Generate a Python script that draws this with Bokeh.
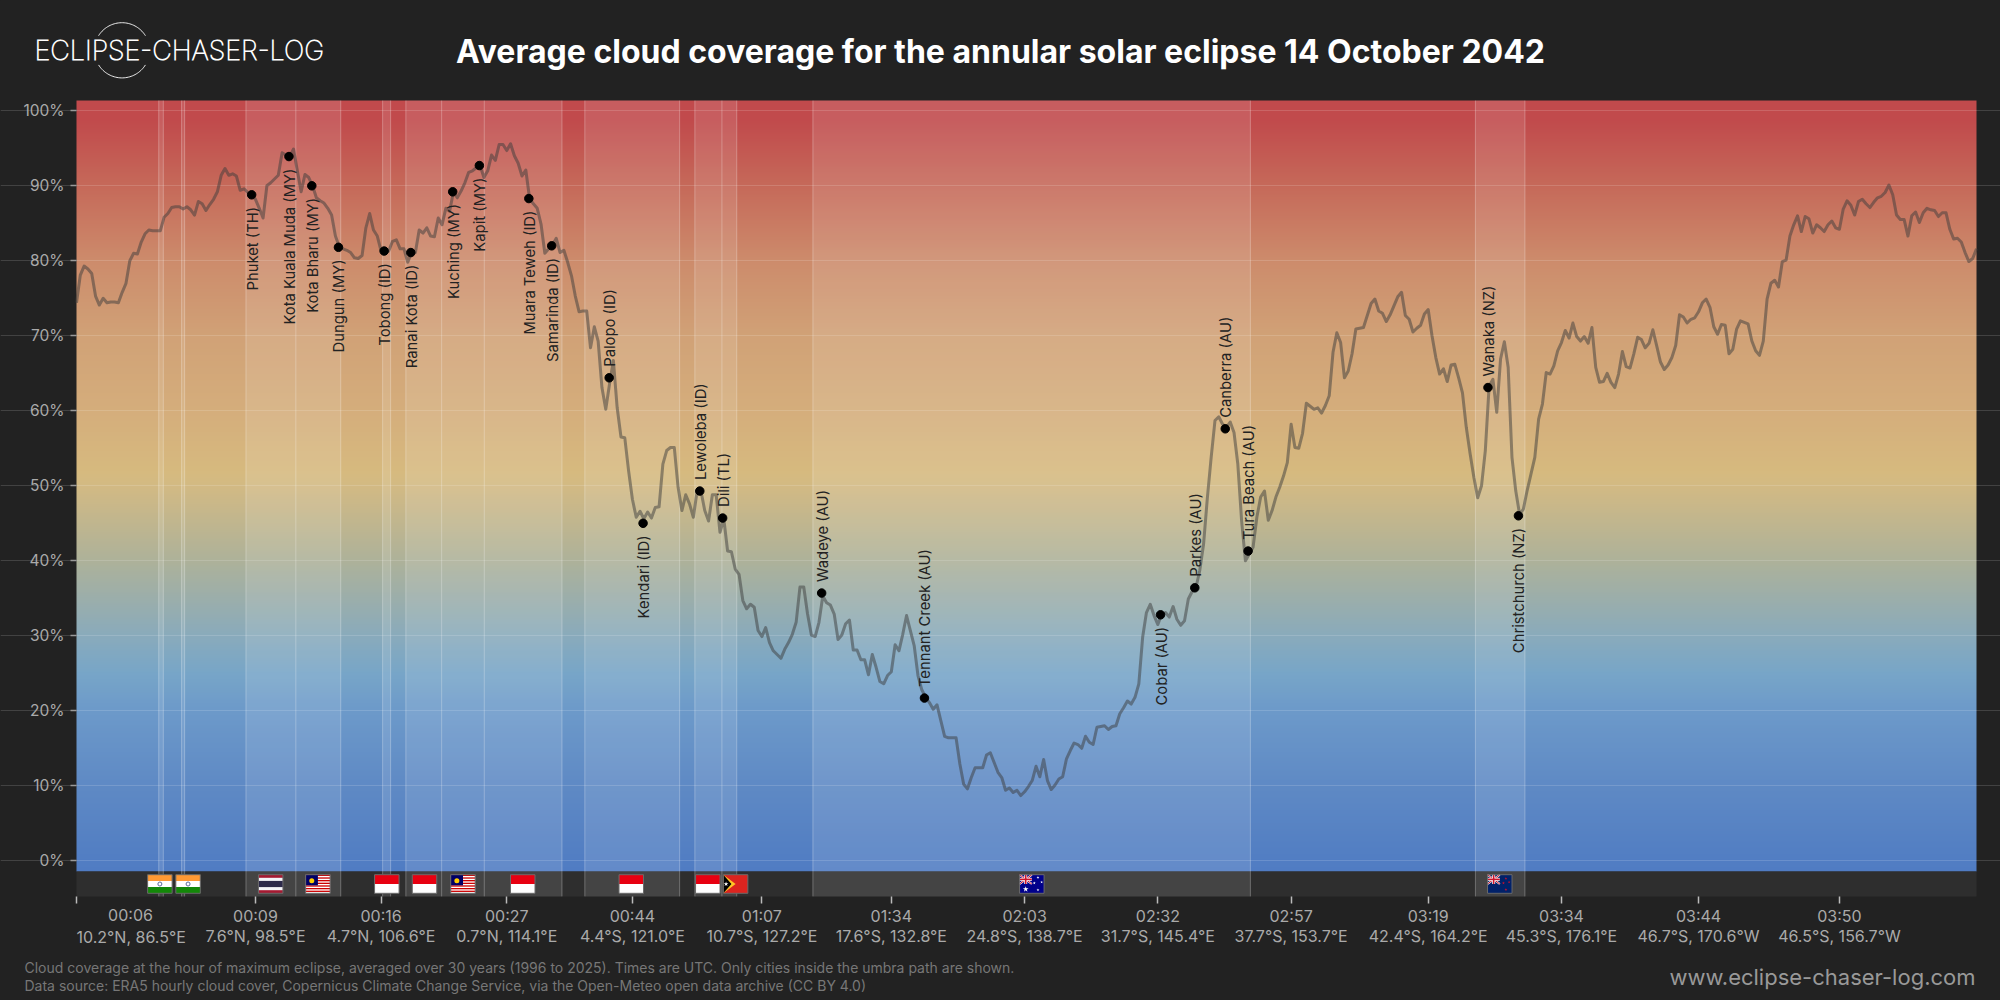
import numpy as np
from bokeh.plotting import figure
from bokeh.core.properties import value
from bokeh.models import FixedTicker, Grid, LinearAxis, PrintfTickFormatter, Range1d
from bokeh.embed import file_html
from bokeh.resources import INLINE

# ---- data ----
cloud_part1 = [
    74.4,78.1,79.3,78.9,78.3,75.3,74.1,75,74.4,74.5,
    74.5,74.4,75.8,77,80,81,80.9,82.5,83.6,84.1,
    84,84,84,85.8,86.3,87.1,87.2,87.2,86.9,87.2,
    86.8,86.1,87.9,87.6,86.7,87.5,88.2,89.2,91.4,92.3,
    91.4,91.6,91.3,89.4,89.6,89.1,88.8,88.2,87,85.7,
    90,90.4,90.9,91.4,94.4,94.1,93.9,94.9,92,89.2,
    91.5,91.1,90,88.4,88,87.7,87,86.1,83.3,81.9,
    81.6,81.4,81.1,80.4,80.3,80.7,84.4,86.3,84.1,83.3,
    81.3,81.1,81.3,82.6,82.8,81.6,81.6,79.8,81.1,81.1,
    84.1,83.7,84.4,83.3,83.2,85.7,84.8,87,86.6,89.2,
    88.4,89.3,90.4,91.8,92,92.4,92.7,91.1,92,94.1,
    93.4,95.5,95.5,94.7,95.6,94,93,91.3,92.1,88.3,
    87.6,87,84.9,81,81.6,82.1,83,81.1]
cloud_part2 = [
    81.4,79.8,78,75.3,73.2,73.3,73.3,68.4,71.2,69.3,
    63.1,60.2,63.6,66.7,60.4,56.5,56.4,52,48.2,45.8,
    46.6,45.6,46.5,45.7,47.1,47.2,52.9,54.7,55.1,55.1,
    49.8,46.7,48.8,47.6,45.8,49.3,49.3,46.7,45.3,48.8,
    48.8,43.8,45.6,41.3,41.2,38.9,38.2,34.7,33.6,34.2,
    33.8]
cloud_part3 = [
    30.7,29.9,31.1,29.1,28,27.5,27,28.2,29.1,30.2,
    31.8,36.5,36.5,32.9,30.1,29.9,31.8,35.3,34.4,34.1,
    32.9,29.5,30.1,31.6,32.1,28.1,28.1,26.8,26.8,24.8,
    27.5,25.8,23.9,23.6,24.7,25.2,28.8,28,30.2,32.7,
    30.7,28.7,24.7,22.8,21.8,21.1,20.2,20.8,18.7,16.6,
    16.4,16.4,16.4,12.9,10.2,9.6,11.1,12.4,12.4,12.4,
    14.1,14.4,13.1,11.8,11.1,9.4,9.7,9.1,9.4,8.7,
    9.2,9.9,10.7,12.6,11.2,13.5,10.7,9.5,10.1,10.9,
    11.2,13.6,14.7,15.7,15.5,15,16.6,15.8,15.5,17.8,
    17.9,18,17.5,17.9,18,19.6,20.4,21.3,20.9,21.8,
    23.6,29.8,33.1,34.2,32.7,31.5,32.9,33.1,32.5,33.9,
    32.2,31.4,32,34.9,35.9,36.4]
cloud_part4 = [
    38.7,42.2,48.4,53.8,58.7,59.2,58.2,57.8,58.5,57.1,
    52.9,45.3,40,40.9,41.8,45.8,48.5,49.3,45.4,46.7,
    48.5,49.8,51.3,53.1,58.2,55.1,55,57,61,60.6,
    60.2,60.4,59.7,60.7,62,67.8,70.4,69.1,64.4,65.3,
    67.6,70.9,71,71.1,72.7,74.3,74.9,73.3,73,71.9,
    72.8,74,75.2,75.8,72.7,72.2,70.5,71,71.4,72.9,
    73.5,70,67.1,64.9,65.6,63.9,66.1,66.2,64.4,62.4,
    57.8,54.3,51.1,48.4,50,54.7,63.3,64.2,59.8,66.9,
    69.2,65.8,53.8,49.3,46.2,46.9,49.4,51.6,53.8,58.9,
    60.9,65.1,64.9,66,68,69.1,70.7,69.7,71.7,69.9,
    69.3,69.9,69,71.1,65.8,63.8]
cloud_part5 = [
    63.9,65,63.8,63.1,64.9,67.9,65.9,65.7,67.6,69.8,
    69.5,68.4,69,70.8,68.7,66.5,65.5,66.1,67.1,68.7,
    72.8,72.5,71.7,72.2,72.4,73.2,74.4,74.9,73.8,71.2,
    70.2,71.5,71.4,67.6,68.2,70.9,72,71.8,71.6,69.3,
    68,67.4,69.3,74.9,77,77.4,76.5,79.9,80.1,83.3,
    84.8,86,83.9,85.9,85.6,83.7,84.8,84.4,83.9,84.8,
    85.3,84.4,84.2,86.9,88,87.4,86.1,87.9,88.2,87.6,
    87.1,87.8,88.4,88.6,89.1,90.1,88.8,86.1,85.5,85.5,
    83.3,86,86.5,85.1,86.4,87,86.8,86.7,85.9,86.4,
    86.4,84.2,82.9,83,82.5,81.1,79.9,80.3,81.6]
cloud = cloud_part1 + cloud_part2 + cloud_part3 + cloud_part4 + cloud_part5

city_names_below = ["Phuket (TH)","Kota Kuala Muda (MY)","Kota Bharu (MY)","Dungun (MY)","Tobong (ID)",
                    "Ranai Kota (ID)","Kuching (MY)","Kapit (MY)","Muara Teweh (ID)","Samarinda (ID)",
                    "Kendari (ID)","Cobar (AU)","Christchurch (NZ)"]
city_idx_below = [46,55.8,61.8,68.8,80.8,87.8,98.8,105.8,118.8,124.8,148.8,284.7,378.7]
city_cloud_below = [88.8,93.9,90.0,81.8,81.3,81.1,89.2,92.7,88.3,82.0,45.0,32.8,46.0]
city_names_above = ["Palopo (ID)","Lewoleba (ID)","Dili (TL)","Wadeye (AU)","Tennant Creek (AU)",
                    "Parkes (AU)","Canberra (AU)","Tura Beach (AU)","Wanaka (NZ)"]
city_idx_above = [139.9,163.7,169.7,195.7,222.7,293.7,301.7,307.7,370.7]
city_cloud_above = [64.4,49.3,45.7,35.7,21.7,36.4,57.6,41.3,63.1]

band_start = [21.6,27.6,44.5,57.6,80.4,86.5,95.9,107.1,133.5,162.4,169.5,193.4,367.4]
band_end   = [22.8,28.4,57.6,69.4,82.5,95.9,107.1,127.5,158.4,169.5,173.4,308.3,380.4]

flag_kinds = ["IN","IN","TH","MY","ID","ID","MY","ID","ID","ID","TL","AU","NZ"]
flag_idx = [21.9,29.3,51,63.4,81.5,91.4,101.5,117.2,145.7,165.8,173.1,250.9,373.8]

tick_idx = [0,47,80,113,146,180,214,249,284,319,355,390,426,463]
tick_times = ["00:06","00:09","00:16","00:27","00:44","01:07","01:34","02:03","02:32","02:57","03:19","03:34","03:44","03:50"]
tick_places = ["10.2°N, 86.5°E","7.6°N, 98.5°E","4.7°N, 106.6°E","0.7°N, 114.1°E","4.4°S, 121.0°E","10.7°S, 127.2°E",
               "17.6°S, 132.8°E","24.8°S, 138.7°E","31.7°S, 145.4°E","37.7°S, 153.7°E","42.4°S, 164.2°E",
               "45.3°S, 176.1°E","46.7°S, 170.6°W","46.5°S, 156.7°W"]
y_ticks = [0,10,20,30,40,50,60,70,80,90,100]

gradient_pct = [-2,0,10,20,25,30,40,50,52,60,70,80,90,99,102]
gradient_col = ["#507cc3","#527ec3","#5f8ac5","#6d9aca","#78a6c8","#8aabbc","#aeb29a","#d3ba84","#d7ba7f",
                "#d5ae7c","#d1a277","#cd8c6c","#c66a5a","#c14a4c","#c14a4c"]

title_text = "Average cloud coverage for the annular solar eclipse 14 October 2042"
logo_text = "ECLIPSE-CHASER-LOG"
site_text = "www.eclipse-chaser-log.com"
note1 = "Cloud coverage at the hour of maximum eclipse, averaged over 30 years (1996 to 2025). Times are UTC. Only cities inside the umbra path are shown."
note2 = "Data source: ERA5 hourly cloud cover, Copernicus Climate Change Service, via the Open-Meteo open data archive (CC BY 4.0)"

# ---- figure: the frame fills the page, the axes sit at fixed data locations ----
BG = "#222222"
FONT = "Inter"
IDX_PX = 1900 / 499
PCT_PX = 7.5
Y_TOP, Y_BOT, Y_GRAD = 101.37, -4.75, -1.43

def X(px):
    return (px - 76) / IDX_PX

def Y(py):
    return (860.3 - py) / PCT_PX

p = figure(width=2000, height=1000, output_backend="svg", toolbar_location=None,
           x_range=Range1d(X(0), X(2000)), y_range=Range1d(Y(1000), Y(0)),
           x_axis_location=None, y_axis_location=None,
           min_border=0, background_fill_color=BG, border_fill_color=BG, outline_line_color=None)
p.xgrid.visible = False
p.ygrid.visible = False

# gradient
rows = 800
levels = np.linspace(Y_GRAD, Y_TOP, rows)
def _rgb(c):
    return [int(c[i:i+2], 16) for i in (1, 3, 5)]
stops = np.array([_rgb(c) for c in gradient_col], dtype=float)
img = np.zeros((rows, 2, 4), dtype=np.uint8)
for k in range(3):
    img[:, :, k] = np.interp(levels, gradient_pct, stops[:, k])[:, None]
img[:, :, 3] = 255
rgba = img.view(dtype=np.uint32).reshape(rows, 2)
p.image_rgba(image=[rgba], x=0, y=Y_GRAD, dw=499, dh=Y_TOP - Y_GRAD, level="image")
p.quad(left=[0], right=[499], bottom=[Y_BOT], top=[Y_GRAD], fill_color="#2e2e2e", line_color=None, level="image")

p.add_layout(Grid(dimension=1, ticker=FixedTicker(ticks=y_ticks), bounds=(0, 499),
                  grid_line_color="white", grid_line_alpha=0.15, grid_line_width=1))

# bands
p.quad(left=band_start, right=band_end, bottom=Y_BOT, top=Y_TOP, fill_color="white", fill_alpha=0.11, line_color=None)
band_edges = sorted(set(band_start + band_end))
p.segment(band_edges, Y_BOT, band_edges, Y_TOP, line_color="white", line_alpha=0.27, line_width=1)

# line & cities
p.line(np.arange(len(cloud)), cloud, line_color="#3c3c3c", line_alpha=0.5, line_width=3, line_join="round")
p.scatter(city_idx_below + city_idx_above, city_cloud_below + city_cloud_above, size=8.5, color="black")
p.text(city_idx_below, city_cloud_below, text=city_names_below, angle=np.pi / 2, x_offset=1, y_offset=12,
       text_align="right", text_baseline="middle", text_font=value(FONT), text_font_size="14.8px", text_color="#222222")
p.text(city_idx_above, city_cloud_above, text=city_names_above, angle=np.pi / 2, x_offset=1, y_offset=-11,
       text_align="left", text_baseline="middle", text_font=value(FONT), text_font_size="14.8px", text_color="#222222")

# flags
FW, FH, FY = 24.5 / IDX_PX, 18.6 / PCT_PX, Y(883.5)
def frect(cx, x0, x1, y0, y1, col):
    l = cx - FW / 2
    b = FY - FH / 2
    p.quad(left=[l + x0 * FW], right=[l + x1 * FW], bottom=[b + y0 * FH], top=[b + y1 * FH], fill_color=col, line_color=None)
def fpoly(cx, pts, col):
    l = cx - FW / 2
    b = FY - FH / 2
    p.patch([l + a * FW for a, _ in pts], [b + c * FH for _, c in pts], fill_color=col, line_color=None)
def fseg(cx, x0, y0, x1, y1, col, w):
    l = cx - FW / 2
    b = FY - FH / 2
    p.segment([l + x0 * FW], [b + y0 * FH], [l + x1 * FW], [b + y1 * FH], line_color=col, line_width=w)
def fstar(cx, a, c, col, s):
    p.scatter([cx - FW / 2 + a * FW], [FY - FH / 2 + c * FH], marker="star", size=s, fill_color=col, line_color=None)
def union_jack(cx):
    fseg(cx, 0, .5, .5, 1, "white", 2); fseg(cx, 0, 1, .5, .5, "white", 2)
    fseg(cx, 0, .5, .5, 1, "#cc142b", 1); fseg(cx, 0, 1, .5, .5, "#cc142b", 1)
    fseg(cx, .25, .5, .25, 1, "white", 3); fseg(cx, 0, .75, .5, .75, "white", 3)
    fseg(cx, .25, .5, .25, 1, "#cc142b", 1.6); fseg(cx, 0, .75, .5, .75, "#cc142b", 1.6)
for kind, cx in zip(flag_kinds, flag_idx):
    if kind == "IN":
        frect(cx, 0, 1, 2/3, 1, "#ff9933"); frect(cx, 0, 1, 1/3, 2/3, "#ffffff"); frect(cx, 0, 1, 0, 1/3, "#138808")
        p.scatter([cx], [FY], size=4, fill_color="#ffffff", line_color="#5a6a9a", line_width=1)
    elif kind == "TH":
        frect(cx, 0, 1, 0, 1, "#a51931"); frect(cx, 0, 1, 1/6, 5/6, "#f4f5f8"); frect(cx, 0, 1, 1/3, 2/3, "#2d2a4a")
    elif kind == "MY":
        frect(cx, 0, 1, 0, 1, "#ffffff")
        for s in range(7):
            frect(cx, 0, 1, s * 2 / 14 + 1/14, s * 2 / 14 + 2/14, "#cc0001")
        frect(cx, 0, .5, 6/14, 1, "#010066")
        p.scatter([cx - FW / 4], [FY + FH * 5/28], size=5, fill_color="#ffcc00", line_color=None)
    elif kind == "ID":
        frect(cx, 0, 1, .5, 1, "#e70011"); frect(cx, 0, 1, 0, .5, "#ffffff")
    elif kind == "TL":
        frect(cx, 0, 1, 0, 1, "#dc241f")
        fpoly(cx, [(0, 0), (.5, .5), (0, 1)], "#ffc726")
        fpoly(cx, [(0, 0), (.33, .5), (0, 1)], "#000000")
        fstar(cx, .11, .5, "#ffffff", 5)
    elif kind == "AU":
        frect(cx, 0, 1, 0, 1, "#00008b")
        union_jack(cx)
        fstar(cx, .25, .22, "#ffffff", 6)
        for a, c in ((.75, .85), (.6, .55), (.75, .18), (.9, .6)):
            fstar(cx, a, c, "#ffffff", 3)
    elif kind == "NZ":
        frect(cx, 0, 1, 0, 1, "#012169")
        union_jack(cx)
        for a, c in ((.75, .8), (.65, .55), (.88, .6), (.75, .2)):
            fstar(cx, a, c, "#c8102e", 3)
    # border
    l, b = cx - FW / 2, FY - FH / 2
    p.quad(left=[l], right=[l + FW], bottom=[b], top=[b + FH], fill_color=None, line_color="#6a6a6a", line_width=1)

# axes
ya = LinearAxis(fixed_location=0, ticker=FixedTicker(ticks=y_ticks), formatter=PrintfTickFormatter(format="%d%%"),
                axis_line_color=None, major_tick_line_color="#999999", major_tick_line_width=1.5,
                major_tick_out=6, major_tick_in=0, minor_tick_line_color=None,
                major_label_text_color="#aaaaaa", major_label_text_font=FONT, major_label_text_font_size="15.5px",
                major_label_standoff=6)
p.add_layout(ya, "left")
xa = LinearAxis(fixed_location=Y_BOT, ticker=FixedTicker(ticks=tick_idx),
                major_label_overrides={i: ("" if i == 0 else f"{t}\n{s}") for i, t, s in zip(tick_idx, tick_times, tick_places)},
                axis_line_color=None, major_tick_line_color="#bbbbbb", major_tick_line_width=1.5,
                major_tick_out=7, major_tick_in=0, minor_tick_line_color=None,
                major_label_text_color="#aaaaaa", major_label_text_font=FONT, major_label_text_font_size="16px",
                major_label_text_line_height=1.0, major_label_standoff=3)
p.add_layout(xa, "below")

def label(px, py, text, size, color, align="left", style="normal", font=FONT):
    p.text([X(px)], [Y(py)], text=[text], text_font=value(font), text_font_size=size, text_color=color,
           text_align=align, text_baseline="middle", text_font_style=style)

label(130, 914, tick_times[0], "16px", "#aaaaaa", align="center")
label(76, 936, tick_places[0], "16px", "#aaaaaa")
label(1000, 51, title_text, "32px", "#ffffff", align="center", style="bold")
label(34, 50, logo_text, "27px", "#ffffff", font="Inter Thin")
label(24, 967, note1, "14px", "#777777")
label(24, 985, note2, "14px", "#777777")
label(1975, 976, site_text, "22px", "#999999", align="right")

# logo arcs
th_t = np.radians(np.linspace(32, 148, 40))
for sign in (-1, 1):
    ax = 121.5 + 27.6 * np.cos(th_t)
    ay = 49.8 + sign * 27.6 * np.sin(th_t)
    p.line(X(ax), Y(ay), line_color="#ffffff", line_width=1, line_alpha=0.9)

html = file_html(p, INLINE)
html = html.replace("<head>", "<head><style>html,body{background:#222222;overflow:hidden;}</style>", 1)
open("out.html", "w").write(html)
